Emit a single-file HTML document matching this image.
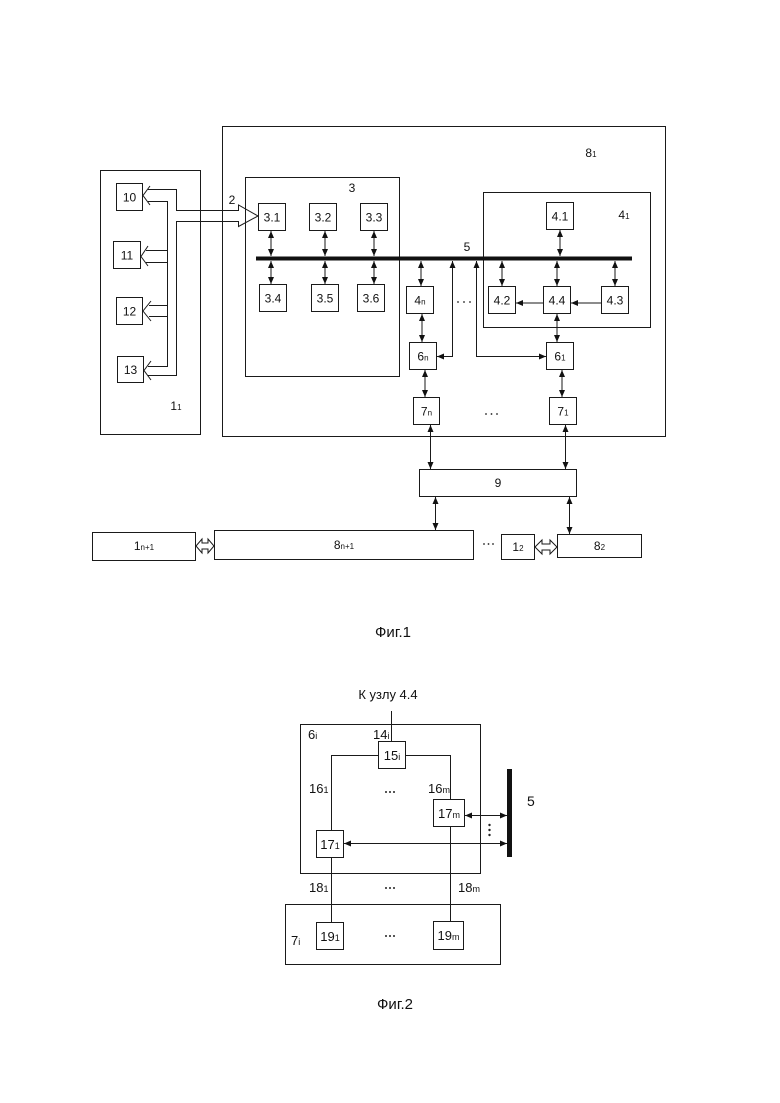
<!DOCTYPE html>
<html><head><meta charset="utf-8"><style>
html,body{margin:0;padding:0;background:#fff}
svg{display:block}
text{font-family:"Liberation Sans",Arial,sans-serif;fill:#111}
</style></head><body>
<svg width="780" height="1103" viewBox="0 0 780 1103" xmlns="http://www.w3.org/2000/svg">
<defs>
<marker id="a" markerUnits="userSpaceOnUse" markerWidth="8" markerHeight="7" refX="7" refY="3" orient="auto-start-reverse"><path d="M0,0 L7,3 L0,6 z" fill="#111"/></marker>
</defs>
<rect width="780" height="1103" fill="#fff"/>

<!-- ================= FIG 1 ================= -->
<g fill="none" stroke="#1a1a1a" stroke-width="1">
  <!-- big containers -->
  <rect x="100.5" y="170.5" width="100" height="264"/>
  <rect x="222.5" y="126.5" width="443" height="310"/>
  <rect x="245.5" y="177.5" width="154" height="199"/>
  <rect x="483.5" y="192.5" width="167" height="135"/>

  <!-- boxes in 1_1 -->
  <rect x="116.5" y="183.5" width="26" height="27"/>
  <rect x="113.5" y="241.5" width="27" height="27"/>
  <rect x="116.5" y="297.5" width="26" height="27"/>
  <rect x="117.5" y="356.5" width="26" height="26"/>

  <!-- boxes 3.x -->
  <rect x="258.5" y="203.5" width="27" height="27"/>
  <rect x="309.5" y="203.5" width="27" height="27"/>
  <rect x="360.5" y="203.5" width="27" height="27"/>
  <rect x="259.5" y="284.5" width="27" height="27"/>
  <rect x="311.5" y="284.5" width="27" height="27"/>
  <rect x="357.5" y="284.5" width="27" height="27"/>

  <!-- boxes 4.x -->
  <rect x="546.5" y="202.5" width="27" height="27"/>
  <rect x="488.5" y="286.5" width="27" height="27"/>
  <rect x="543.5" y="286.5" width="27" height="27"/>
  <rect x="601.5" y="286.5" width="27" height="27"/>

  <!-- 4n, 6n, 6_1, 7n, 7_1 -->
  <rect x="406.5" y="286.5" width="27" height="27"/>
  <rect x="409.5" y="342.5" width="27" height="27"/>
  <rect x="546.5" y="342.5" width="27" height="27"/>
  <rect x="413.5" y="397.5" width="26" height="27"/>
  <rect x="549.5" y="397.5" width="27" height="27"/>

  <!-- 9 and bottom row -->
  <rect x="419.5" y="469.5" width="157" height="27"/>
  <rect x="92.5" y="532.5" width="103" height="28"/>
  <rect x="214.5" y="530.5" width="259" height="29"/>
  <rect x="501.5" y="534.5" width="33" height="25"/>
  <rect x="557.5" y="534.5" width="84" height="23"/>

  <!-- bus structure in 1_1 -->
  <path d="M148,189.5 H176.5 V210.5 H238.5 V205 L258,216 L238.5,226.5 V221.5 H176.5 V375.5 H148"/>
  <path d="M148,201.5 H167.5 V366.5 H148"/>
  <path d="M146,250.5 H167.5 M146,262.5 H167.5 M149,305.5 H167.5 M149,316.5 H167.5"/>
  <!-- chevrons -->
  <path d="M150,186 L143,195.5 L150,205"/>
  <path d="M148,246 L141,256.5 L148,266"/>
  <path d="M151,301 L143,311 L151,321"/>
  <path d="M151,361 L144,370.5 L151,380"/>

  <!-- double hollow arrows bottom row -->
  <path d="M196,546 L202,539 V543 H208 V539 L214,546 L208,553 V549 H202 V553 Z"/>
  <path d="M535,547 L542,540 V544 H550 V540 L557,547 L550,554 V550 H542 V554 Z"/>
</g>

<!-- bus 5 -->
<line x1="256" y1="258.5" x2="632" y2="258.5" stroke="#111" stroke-width="4"/>

<!-- arrows fig 1 -->
<g stroke="#1a1a1a" stroke-width="1" fill="none" marker-start="url(#a)" marker-end="url(#a)">
  <line x1="271" y1="231" x2="271" y2="256"/>
  <line x1="271" y1="261" x2="271" y2="284"/>
  <line x1="325" y1="231" x2="325" y2="256"/>
  <line x1="325" y1="261" x2="325" y2="284"/>
  <line x1="374" y1="231" x2="374" y2="256"/>
  <line x1="374" y1="261" x2="374" y2="284"/>

  <line x1="560" y1="230" x2="560" y2="256"/>
  <line x1="421" y1="261" x2="421" y2="286"/>
  <line x1="502" y1="261" x2="502" y2="286"/>
  <line x1="557" y1="261" x2="557" y2="286"/>
  <line x1="615" y1="261" x2="615" y2="286"/>

  <line x1="422" y1="314" x2="422" y2="342"/>
  <line x1="557" y1="314" x2="557" y2="342"/>

  <polyline points="452.5,261 452.5,356.5 437,356.5"/>
  <polyline points="476.5,261 476.5,356.5 546,356.5"/>

  <line x1="425" y1="370" x2="425" y2="397"/>
  <line x1="562" y1="370" x2="562" y2="397"/>

  <line x1="430.5" y1="425" x2="430.5" y2="469"/>
  <line x1="565.5" y1="425" x2="565.5" y2="469"/>

  <line x1="435.5" y1="497" x2="435.5" y2="530"/>
  <line x1="569.5" y1="497" x2="569.5" y2="534"/>
</g>
<g stroke="#1a1a1a" stroke-width="1" fill="none" marker-end="url(#a)">
  <line x1="543" y1="303" x2="516" y2="303"/>
  <line x1="601" y1="303" x2="571" y2="303"/>
</g>

<!-- dots fig 1 -->
<g fill="#222">
  <circle cx="458" cy="302" r="0.9"/><circle cx="464" cy="302" r="0.9"/><circle cx="470" cy="302" r="0.9"/>
  <circle cx="486" cy="414" r="0.9"/><circle cx="491.5" cy="414" r="0.9"/><circle cx="497" cy="414" r="0.9"/>
  <circle cx="484" cy="544" r="0.9"/><circle cx="488.5" cy="544" r="0.9"/><circle cx="493" cy="544" r="0.9"/>
</g>

<!-- labels fig 1 -->
<g font-size="12" text-anchor="middle">
  <text x="129.5" y="201.5">10</text>
  <text x="127" y="259.5">11</text>
  <text x="129.5" y="315.5">12</text>
  <text x="130.5" y="374">13</text>

  <text x="272" y="221.5">3.1</text>
  <text x="323" y="221.5">3.2</text>
  <text x="374" y="221.5">3.3</text>
  <text x="273" y="302.5">3.4</text>
  <text x="325" y="302.5">3.5</text>
  <text x="371" y="302.5">3.6</text>

  <text x="560" y="220.5">4.1</text>
  <text x="502" y="304.5">4.2</text>
  <text x="557" y="304.5">4.4</text>
  <text x="615" y="304.5">4.3</text>

  <text x="420" y="304.5">4<tspan font-size="8">n</tspan></text>
  <text x="423" y="360.5">6<tspan font-size="8">n</tspan></text>
  <text x="560" y="360.5">6<tspan font-size="8">1</tspan></text>
  <text x="426.5" y="415.5">7<tspan font-size="8">n</tspan></text>
  <text x="563" y="415.5">7<tspan font-size="8">1</tspan></text>

  <text x="498" y="487">9</text>
  <text x="144" y="550">1<tspan font-size="8">n+1</tspan></text>
  <text x="344" y="549">8<tspan font-size="8">n+1</tspan></text>
  <text x="518" y="551">1<tspan font-size="8">2</tspan></text>
  <text x="599.5" y="550">8<tspan font-size="8">2</tspan></text>

  <text x="591" y="157">8<tspan font-size="8">1</tspan></text>
  <text x="352" y="192">3</text>
  <text x="624" y="219">4<tspan font-size="8">1</tspan></text>
  <text x="467" y="251">5</text>
  <text x="232" y="204">2</text>
  <text x="176" y="410">1<tspan font-size="8">1</tspan></text>
</g>
<text x="393" y="637" font-size="15" text-anchor="middle">Фиг.1</text>

<!-- ================= FIG 2 ================= -->
<g fill="none" stroke="#1a1a1a" stroke-width="1">
  <rect x="300.5" y="724.5" width="180" height="149"/>
  <rect x="285.5" y="904.5" width="215" height="60"/>
  <rect x="378.5" y="741.5" width="27" height="27"/>
  <rect x="433.5" y="799.5" width="31" height="27"/>
  <rect x="316.5" y="830.5" width="27" height="27"/>
  <rect x="316.5" y="922.5" width="27" height="27"/>
  <rect x="433.5" y="921.5" width="30" height="28"/>
  <path d="M391.5,711 V741.5"/>
  <path d="M378.5,755.5 H331.5 V830.5"/>
  <path d="M405.5,755.5 H450.5 V799.5"/>
  <path d="M331.5,857.5 V922.5"/>
  <path d="M450.5,826.5 V921.5"/>
</g>
<line x1="509.5" y1="769" x2="509.5" y2="857" stroke="#111" stroke-width="5"/>
<g stroke="#1a1a1a" stroke-width="1" fill="none" marker-start="url(#a)" marker-end="url(#a)">
  <line x1="465" y1="815.5" x2="507" y2="815.5"/>
  <line x1="344" y1="843.5" x2="507" y2="843.5"/>
</g>
<g fill="#222">
  <circle cx="489.5" cy="825" r="1.2"/><circle cx="489.5" cy="830" r="1.2"/><circle cx="489.5" cy="835" r="1.2"/>
  <circle cx="386" cy="792" r="1"/><circle cx="390" cy="792" r="1"/><circle cx="394" cy="792" r="1"/>
  <circle cx="386" cy="888" r="1"/><circle cx="390" cy="888" r="1"/><circle cx="394" cy="888" r="1"/>
  <circle cx="386" cy="936" r="1"/><circle cx="390" cy="936" r="1"/><circle cx="394" cy="936" r="1"/>
</g>
<g font-size="13">
  <text x="388" y="699" text-anchor="middle">К узлу 4.4</text>
  <text x="308" y="739">6<tspan font-size="9">i</tspan></text>
  <text x="373" y="739">14<tspan font-size="9">i</tspan></text>
  <text x="392" y="760" text-anchor="middle">15<tspan font-size="9">i</tspan></text>
  <text x="309" y="793">16<tspan font-size="9">1</tspan></text>
  <text x="428" y="793">16<tspan font-size="9">m</tspan></text>
  <text x="449" y="818" text-anchor="middle">17<tspan font-size="9">m</tspan></text>
  <text x="330" y="849" text-anchor="middle">17<tspan font-size="9">1</tspan></text>
  <text x="309" y="892">18<tspan font-size="9">1</tspan></text>
  <text x="458" y="892">18<tspan font-size="9">m</tspan></text>
  <text x="330" y="941" text-anchor="middle">19<tspan font-size="9">1</tspan></text>
  <text x="448.5" y="940" text-anchor="middle">19<tspan font-size="9">m</tspan></text>
  <text x="291" y="945">7<tspan font-size="9">i</tspan></text>
  <text x="527" y="806" font-size="14">5</text>
</g>
<text x="395" y="1009" font-size="15" text-anchor="middle">Фиг.2</text>
</svg>
</body></html>
